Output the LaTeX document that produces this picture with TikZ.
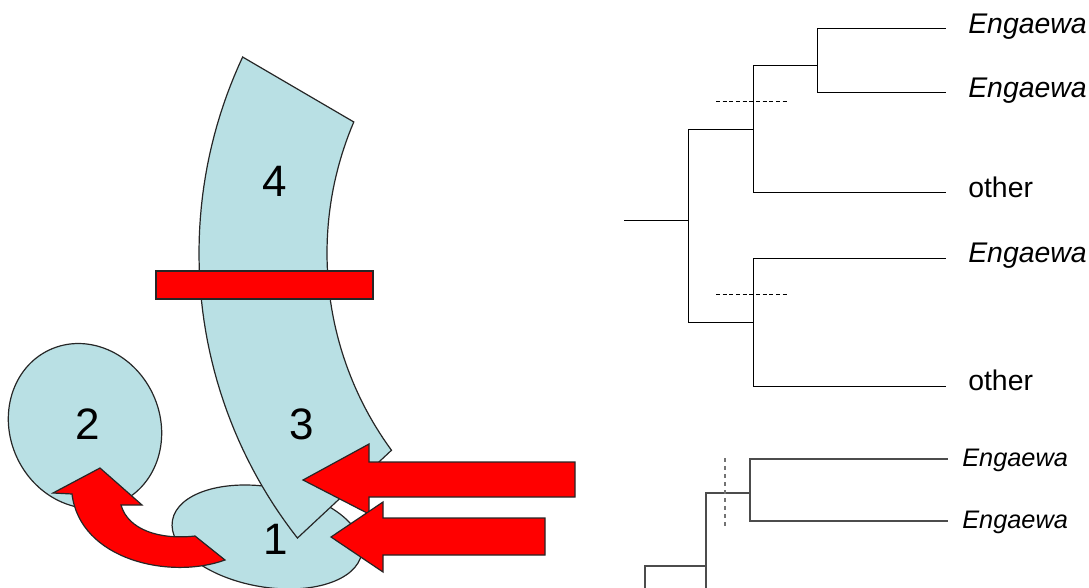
\documentclass[tikz,border=0pt]{standalone}
\usepackage{fontspec}
\setmainfont{Liberation Sans}
\usetikzlibrary{calc}
\definecolor{tissue}{RGB}{185,224,228}
\definecolor{cut}{RGB}{255,0,0}

\begin{document}
\begin{tikzpicture}[x=0.75pt, y=-0.75pt,
    part/.style={fill=tissue, draw=black!85, line width=0.9pt},
    block/.style={fill=cut, draw=black!85, line width=0.9pt},
    digit/.style={font=\fontsize{33}{33}\selectfont},
    branch/.style={line width=0.75pt},
    oldbranch/.style={draw=black!70, line width=1.1pt},
    taxon/.style={anchor=west, inner xsep=16.5pt, text height=10.5pt, text depth=3.4pt,
      font=\fontsize{21.3}{21}\selectfont},
    oldtaxon/.style={anchor=west, inner xsep=10.5pt, text height=12.5pt, text depth=1pt,
      font=\fontsize{19}{19}\selectfont}]
  \useasboundingbox (0,0) rectangle (1089,588);
  % tissue parts
  \draw[part, rotate around={25:(85,426)}] (85,426) ellipse [x radius=75, y radius=84];
  \draw[part, rotate around={-10:(267,537)}] (267,537) ellipse [x radius=96, y radius=50];
  \draw[part] plot[domain=205.1:141.9, samples=50] ({661+462*cos(\x)}, {253+462*sin(\x)})
    -- plot[domain=143.8:203.1, samples=50] ({661+334*cos(\x)}, {253+334*sin(\x)}) -- cycle;
  \node[digit] (p4) at (275,181) {4};
  \node[digit] (p3) at (302,424) {3};
  \node[digit] (p2) at (88,424) {2};
  \node[digit] (p1) at (276,539) {1};
  % block and arrows
  \draw[block] (156,271) rectangle (373,299);
  \draw[block] (225,560) .. controls (170,580) and (80,560) .. (72,494) -- (53,493)
    -- (100,468) -- (142,505) -- (121,505) .. controls (128,530) and (160,540) .. (195,536) -- cycle;
  \draw[block] (575,462) -- (369,462) -- (369,444) -- (303,480) -- (369,514)
    -- (369,497) -- (575,497) -- cycle;
  \draw[block] (545,518) -- (383,518) -- (383,502) -- (331,537) -- (383,572)
    -- (383,555) -- (545,555) -- cycle;
  % tree
  \coordinate (r) at (624,221);
  \coordinate (n0) at (688,221);
  \coordinate (n1) at (753,130);
  \coordinate (n2) at (753,322);
  \coordinate (n3) at (817,66);
  \foreach \n/\y/\t in {e1/29/\textit{Engaewa}, e2/93/\textit{Engaewa}, o1/193/other,
      e3/258/\textit{Engaewa}, o2/386/other}
    \node[taxon] (\n) at (946,\y) {\t};
  \draw[branch] (r) -- (n0) (n0) |- (n1) (n0) |- (n2)
    (n1) |- (n3) (n1) |- (o1.west) (n3) |- (e1.west) (n3) |- (e2.west)
    (n2) |- (e3.west) (n2) |- (o2.west);
  \draw[branch, dash pattern=on 3pt off 2pt, line width=0.6pt] (716,101) -- (789,101)
    (716,294) -- (789,294);
  % lower tree
  \coordinate (m0) at (645,566);
  \coordinate (m1) at (706,566);
  \coordinate (m2) at (750,493);
  \node[oldtaxon] (e4) at (948,459) {\textit{Engaewa}};
  \node[oldtaxon] (e5) at (948,521) {\textit{Engaewa}};
  \draw[oldbranch] (645,592) -- (m0) -- (m1) (706,592) -- (m1) |- (m2)
    (m2) |- (e4.west) (m2) |- (e5.west);
  \draw[oldbranch, dashed, draw=black!55] (725,458) -- (725,527);
\end{tikzpicture}
\end{document}
